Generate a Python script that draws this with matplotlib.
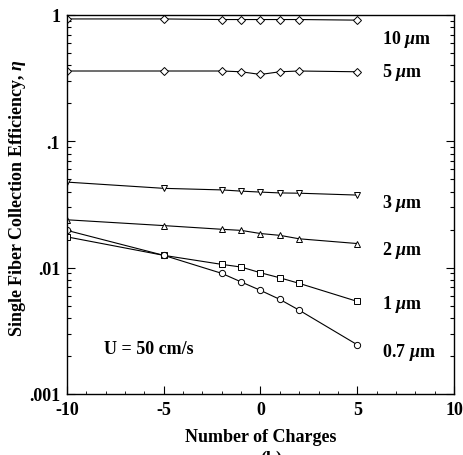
import matplotlib
matplotlib.use("Agg")
import matplotlib.pyplot as plt
from matplotlib.ticker import MultipleLocator, NullFormatter, LogLocator

charges = [-10, -5, -2, -1, 0, 1, 2, 5]
eff_10um = [0.93, 0.93, 0.92, 0.92, 0.92, 0.92, 0.92, 0.91]
eff_5um = [0.36, 0.36, 0.36, 0.355, 0.338, 0.355, 0.36, 0.355]
eff_3um = [0.0475, 0.0424, 0.0412, 0.0403, 0.0396, 0.0390, 0.0388, 0.0375]
eff_2um = [0.0239, 0.0215, 0.0201, 0.0197, 0.0186, 0.0180, 0.0169, 0.0155]
eff_1um = [0.0175, 0.0125, 0.0106, 0.0101, 0.0091, 0.0083, 0.0075, 0.0054]
eff_07um = [0.0197, 0.0125, 0.0090, 0.0077, 0.0066, 0.0056, 0.0046, 0.00245]

series = [
    ("10 $\\mu$m", eff_10um, "D", 0.65),
    ("5 $\\mu$m", eff_5um, "D", 0.355),
    ("3 $\\mu$m", eff_3um, "v", 0.0328),
    ("2 $\\mu$m", eff_2um, "^", 0.0139),
    ("1 $\\mu$m", eff_1um, "s", 0.0052),
    ("0.7 $\\mu$m", eff_07um, "o", 0.00215),
]

plt.rcParams['font.family'] = ['Liberation Serif', 'DejaVu Serif']
plt.rcParams['mathtext.fontset'] = 'custom'
plt.rcParams['mathtext.it'] = 'Liberation Serif:italic:bold'
plt.rcParams['mathtext.rm'] = 'Liberation Serif:bold'

FS = 13

fig = plt.figure(figsize=(4.64, 4.56), dpi=100)
ax = fig.add_axes([0.1444, 0.134, 0.834, 0.831])

for label, vals, mk, ly in series:
    ms = 4 if mk == "D" else 4.5
    ax.plot(charges, vals, color='black', lw=0.8, marker=mk, ms=ms,
            mfc='white', mec='black', mew=0.7)
    ax.text(6.3, ly, label, fontsize=FS, fontweight='bold', va='center', ha='left')

ax.text(-8.1, 0.00227, "U = 50 cm/s", fontsize=FS, fontweight='bold', va='center', ha='left')

ax.set_yscale('log')
ax.set_xlim(-10, 10)
ax.set_ylim(0.001, 1)
ax.set_xticks([-10, -5, 0, 5, 10])
ax.set_xticklabels(['-10', '-5', '0', '5', '10'])
ax.set_yticks([0.001, 0.01, 0.1, 1])
ax.set_yticklabels(['.001', '.01', '.1', '1'])
ax.yaxis.set_minor_locator(LogLocator(base=10, subs=[2, 3, 4, 5, 6, 7, 8, 9]))
ax.yaxis.set_minor_formatter(NullFormatter())
ax.xaxis.set_minor_locator(MultipleLocator(1))
ax.tick_params(which='both', direction='in', top=False, right=True, width=0.8)
ax.tick_params(which='major', length=6, labelsize=FS, pad=5)
ax.tick_params(which='minor', length=3)
ax.tick_params(axis='x', which='minor', length=2, width=0.6)
for lab in ax.get_xticklabels() + ax.get_yticklabels():
    lab.set_fontweight('bold')
for s in ax.spines.values():
    s.set_linewidth(1.0)

ax.set_xlabel("Number of Charges", fontsize=FS, fontweight='bold')
ax.xaxis.set_label_coords(0.5, -0.09)
ax.set_ylabel("Single Fiber Collection Efficiency, $\\eta$", fontsize=FS,
              fontweight='bold')
ax.yaxis.set_label_coords(-0.102, 0.52)
fig.text(0.585, -0.008, "(b)", fontsize=FS, fontweight='bold', ha='center', va='center')

fig.savefig("out.png", dpi=100)
